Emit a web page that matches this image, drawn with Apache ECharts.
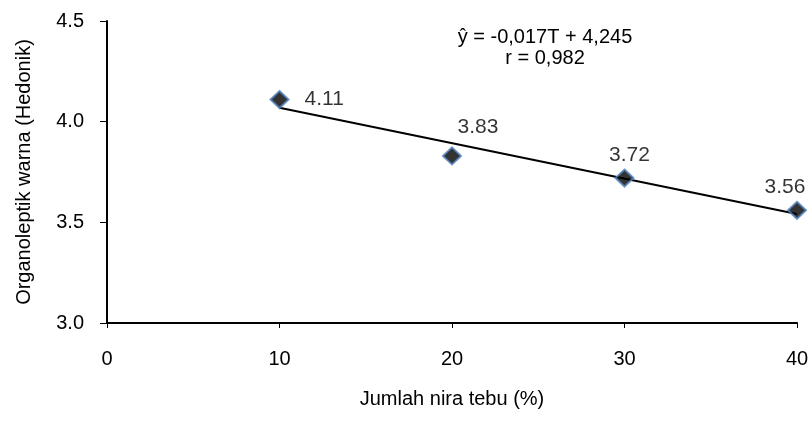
<!DOCTYPE html>
<html>
<head>
<meta charset="utf-8">
<script src="https://cdn.jsdelivr.net/npm/echarts@6/dist/echarts.min.js"></script>
<style>
  html, body { margin: 0; padding: 0; background: #fff; }
  #chart { width: 812px; height: 425px; }
</style>
</head>
<body>
<div id="chart"></div>
<script>
// data
var niraTebu = [10, 20, 30, 40];
var warna = [4.11, 3.83, 3.72, 3.56];
// regression line end points (ŷ = -0,017T + 4,245)
var trendX = [10, 40];
var trendY = [4.069, 3.541];
var labelPos = ['right', 'top', 'top', 'top'];
var labelOff = [[0, 0], [26, -6], [5, 0], [-12, 0]];

var font = 'Liberation Sans, Arial, sans-serif';
var chart = echarts.init(document.getElementById('chart'));

var pts = niraTebu.map(function (x, i) {
    return {
        value: [x, warna[i]],
        label: { position: labelPos[i], distance: labelPos[i] == 'right' ? 15 : 3,
                 offset: labelOff[i] }
    };
});

chart.setOption({
    animation: false,
    grid: { left: 107, right: 15, top: 21, bottom: 102 },
    xAxis: {
        type: 'value', min: 0, max: 40, interval: 10,
        name: 'Jumlah nira tebu (%)', nameLocation: 'middle', nameGap: 66,
        nameTextStyle: { fontFamily: font, fontSize: 20, color: '#000' },
        axisLine: { lineStyle: { color: '#000', width: 2 } },
        axisTick: { show: true, length: 5, lineStyle: { color: '#000' } },
        axisLabel: { fontFamily: font, fontSize: 20, color: '#000', margin: 26 },
        splitLine: { show: false }
    },
    yAxis: {
        type: 'value', min: 3.0, max: 4.5, interval: 0.5,
        name: 'Organoleptik warna (Hedonik)', nameLocation: 'middle', nameGap: 73,
        nameTextStyle: { fontFamily: font, fontSize: 20, color: '#000' },
        axisLine: { show: true, lineStyle: { color: '#000', width: 2 } },
        axisTick: { show: true, length: 7, lineStyle: { color: '#000' } },
        axisLabel: { fontFamily: font, fontSize: 20, color: '#000', margin: 23,
                     formatter: function (v) { return v.toFixed(1); } },
        splitLine: { show: false }
    },
    graphic: [{
        type: 'text', x: 545, y: 27,
        style: { text: 'ŷ = -0,017T + 4,245\nr = 0,982', font: '20px ' + font,
                 fill: '#000', lineHeight: 21, align: 'center' }
    }],
    series: [{
        type: 'line',
        data: trendX.map(function (x, i) { return [x, trendY[i]]; }),
        symbol: 'none',
        lineStyle: { color: '#000', width: 2 },
        z: 2
    }, {
        type: 'scatter',
        data: pts,
        symbol: 'diamond',
        symbolSize: [18, 17],
        itemStyle: { color: '#000', borderColor: '#4f81bd', borderWidth: 2 },
        label: { show: true, fontFamily: font, fontSize: 21, color: '#000',
                 formatter: function (p) { return p.value[1].toFixed(2); } },
        z: 3
    }]
});
</script>
</body>
</html>
